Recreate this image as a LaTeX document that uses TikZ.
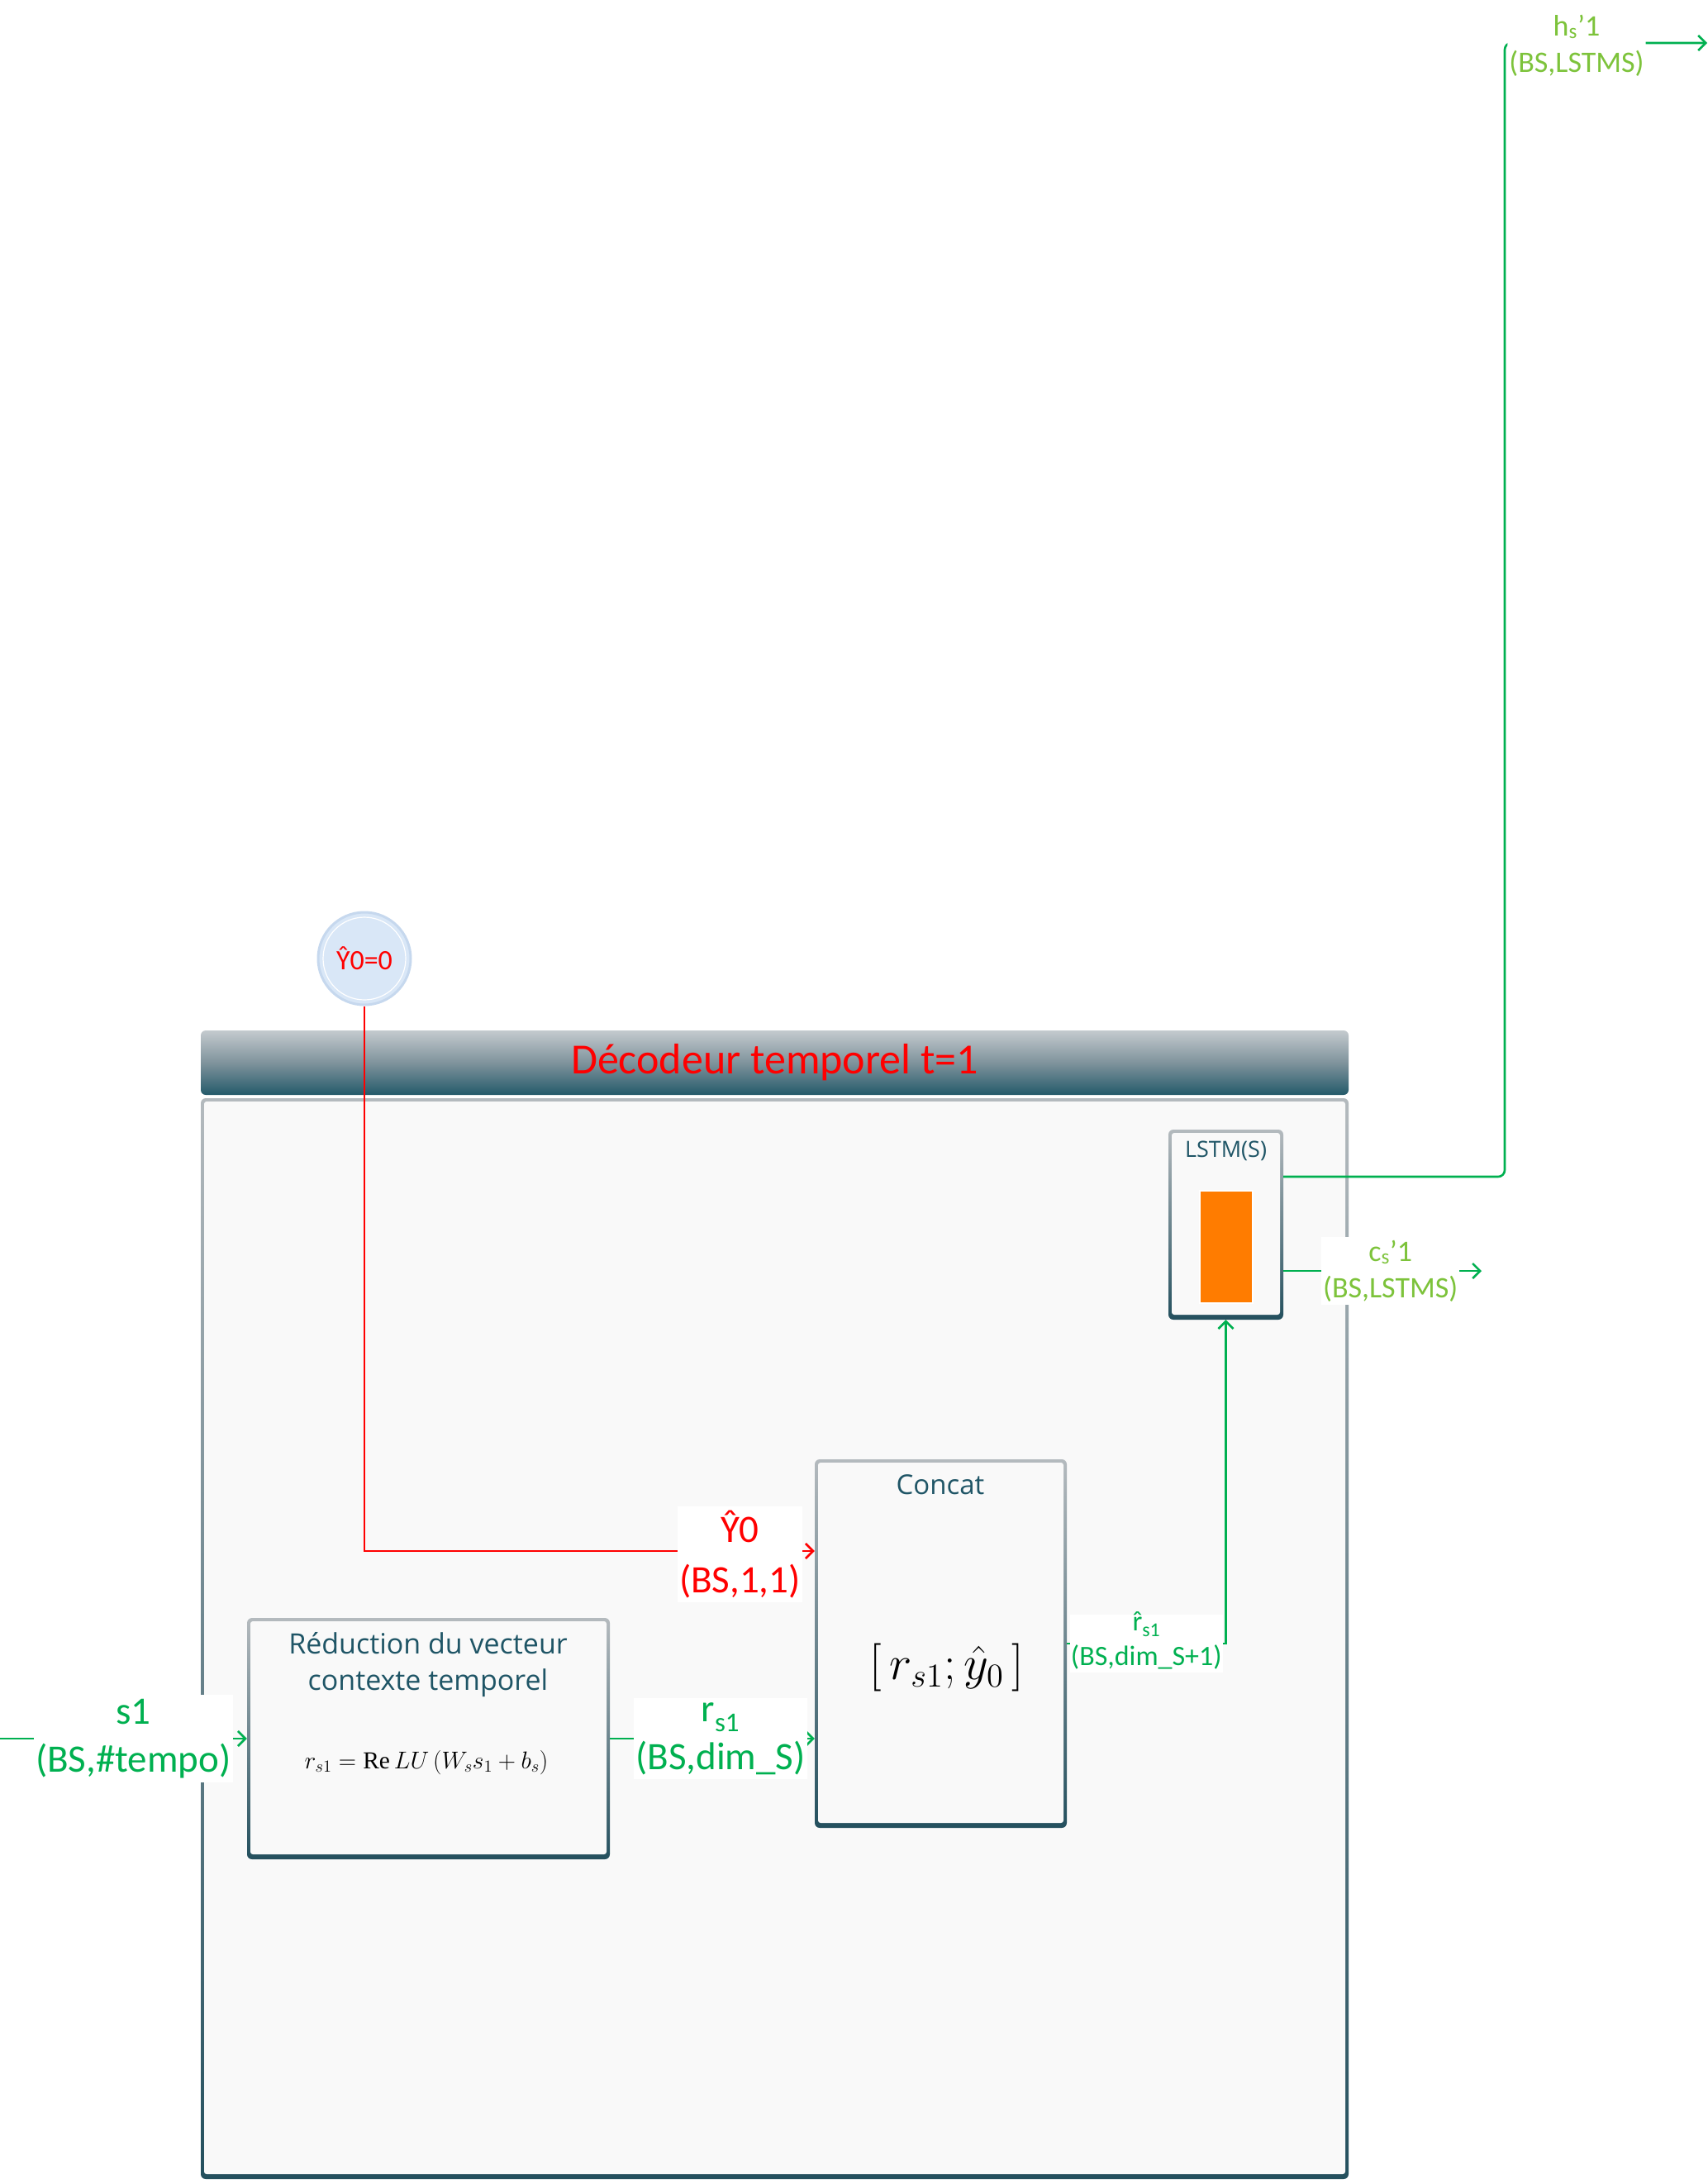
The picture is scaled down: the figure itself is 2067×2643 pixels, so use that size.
\documentclass[tikz,border=0pt]{standalone}
\usepackage{fontspec}
\setmainfont{Carlito}
\newfontfamily\osans{Open Sans}
\newfontfamily\tms{Liberation Serif}
\usetikzlibrary{arrows.meta,calc}
\definecolor{cgreen}{HTML}{00B050}
\definecolor{lgreen}{HTML}{7DC33B}
\definecolor{cred}{HTML}{FF0000}
\definecolor{tealt}{HTML}{1F5566}
\definecolor{bordtop}{HTML}{B4BABE}
\definecolor{borddark}{HTML}{24505E}
\definecolor{panel}{HTML}{F9F9F9}
\definecolor{corange}{HTML}{FF7C00}
\definecolor{cfill}{HTML}{D9E7F7}
\definecolor{cbord}{HTML}{C6D8EE}
\definecolor{bartop}{HTML}{C4CACE}
\definecolor{barmid}{HTML}{7F939C}
\definecolor{barbot}{HTML}{245A6A}
\newcommand\myfs[2]{\fontsize{#1}{#2}\selectfont}
\newcommand\rhat{{\ooalign{r\cr\hidewidth ˆ\hidewidth\cr}}}
\begin{document}
\begin{tikzpicture}[x=1pt,y={(0pt,-1pt)},
  gline/.style={draw=cgreen, line width=2.6pt},
  rline/.style={draw=cred, line width=2.6pt},
  tip/.style={-{Straight Barb[length=9pt,width=18pt]}},
  sbox/.style={rounded corners=6pt, top color=bordtop, bottom color=borddark, draw=none, inner sep=0pt,
    path picture={\fill[panel,rounded corners=3pt] ([shift={(4pt,6pt)}]path picture bounding box.south west) rectangle ([shift={(-4pt,-4pt)}]path picture bounding box.north east);}},
  titlebar/.style={rounded corners=6pt, top color=bartop, bottom color=barbot, middle color=barmid, draw=none, inner sep=0pt, text=cred, font=\myfs{52}{60}},
  lab/.style={fill=white, inner xsep=2pt, inner ysep=5pt, align=center, font=\myfs{47}{58}, text=cgreen},
  labr/.style={lab, font=\myfs{47}{61}, text=cred},
  labs/.style={fill=white, inner xsep=2pt, inner ysep=4pt, align=center, font=\myfs{36}{44}, text=lgreen},
  labm/.style={fill=white, inner xsep=1pt, inner ysep=3pt, align=center, font=\myfs{34}{42}, text=cgreen},
  btitle/.style={align=center, text=tealt, font=\osans\myfs{34}{44}},
  mathf/.style={font=\myfs{20.74}{25}},
]
\useasboundingbox (0,0) rectangle (2067,2643);
\fill[white] (0,0) rectangle (2067,2643);
% frame
\node[titlebar, minimum width=1389pt, minimum height=78pt] (tbar) at (937.5,1286) {Décodeur temporel t=1};
\node[sbox, minimum width=1389pt, minimum height=1308pt] (body) at (937.5,1983) {};
% boxes
\node[sbox, minimum width=439pt, minimum height=292pt] (red) at (518.5,2104) {};
\node[btitle] (redt) at (518,2015) {Réduction du vecteur\\contexte temporel};
\node[mathf, scale=1.42] (redf) at (516,2133) {$r_{s1} = \mbox{\tms Re}\,LU\left(W_s s_1 + b_s\right)$};
\node[sbox, minimum width=305pt, minimum height=446pt] (concat) at (1138.5,1989) {};
\node[btitle, font=\osans\myfs{33}{40}] (catt) at (1138,1797) {Concat};
\node[mathf, scale=2.8] (catf) at (1146,2018) {$\bigl[\,r_{s1};\hat{y}_0\,\bigr]$};
\node[sbox, minimum width=139pt, minimum height=230pt] (lstm) at (1483.5,1482) {};
\node[btitle, font=\osans\myfs{27}{30}] (lstmt) at (1483.5,1393) {LSTM(S)};
\node[fill=corange, draw=white, line width=2pt, minimum width=64pt, minimum height=136pt, inner sep=0pt] (cell) at (1484,1509) {};
% circle
\node[circle, fill=cfill, draw=cbord, line width=3pt, minimum size=112pt, inner sep=0pt, text=cred, font=\myfs{34}{40}] (yc) at (441,1160) {Ŷ0=0};
\draw[white, line width=1.2pt] (yc.center) circle[radius=50pt];
% coordinates
\coordinate (s1in) at (0,2104);
\coordinate (ylev) at (0,1877);
\coordinate (hturn) at (1821,1424);
\coordinate (hend) at (2066,52);
\coordinate (cend) at (1793,1538);
% connectors
\draw[gline,tip] (s1in) -- node[lab,pos=0.54] (s1lab) {s1\\(BS,\#tempo)} (red.west);
\draw[gline,tip] (red.east) -- node[lab,pos=0.54] (rlab) {r\textsubscript{s1}\\(BS,dim\_S)} (concat.west |- red.east);
\draw[rline,tip] (yc.south) |- node[labr,pos=0.917,yshift=-4pt] (ylab) {Ŷ0\\(BS,1,1)} (concat.west |- ylev);
\draw[gline,tip] (concat.east) -| node[labm,pos=0.25] (rhlab) {\rhat\textsubscript{s1}\\(BS,dim\_S+1)} (lstm.south);
\draw[gline,tip,rounded corners=8pt] (lstm.east |- hturn) -- (hturn) -- (hturn |- hend) -- node[labs,pos=0.355,yshift=-3pt] (hlab) {h\textsubscript{s}’1\\(BS,LSTMS)} (hend);
\draw[gline,tip] (lstm.east |- cend) -- node[labs,pos=0.54] (clab) {c\textsubscript{s}’1\\(BS,LSTMS)} (cend);
\end{tikzpicture}
\end{document}
